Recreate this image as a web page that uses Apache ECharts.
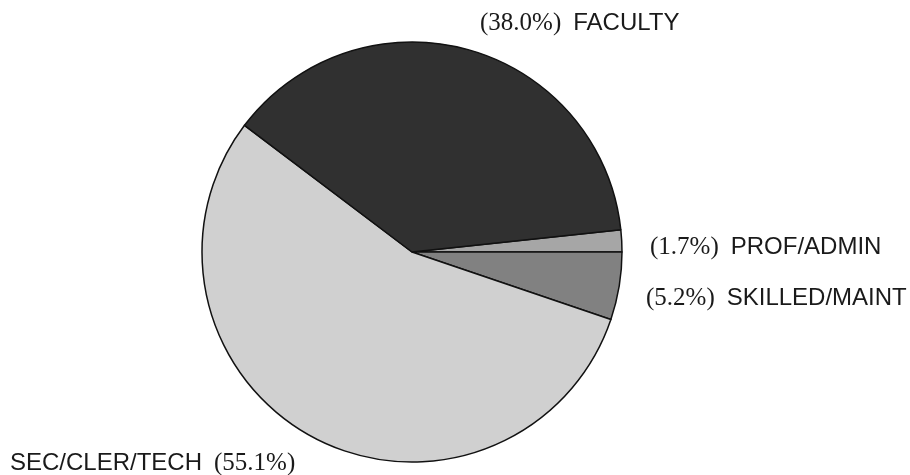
<!DOCTYPE html>
<html>
<head>
<meta charset="utf-8">
<script src="https://cdn.jsdelivr.net/npm/echarts@6/dist/echarts.min.js"></script>
<style>
  html, body { margin: 0; padding: 0; background: #fff; }
  #chart { width: 910px; height: 475px; }
</style>
</head>
<body>
<div id="chart"></div>
<script>
// categories and shares (percent), clockwise from the PROF/ADMIN slice
const categories = ['PROF/ADMIN', 'SKILLED/MAINT', 'SEC/CLER/TECH', 'FACULTY'];
const shares = [1.7, 5.2, 55.1, 38.0];

// halftone-ish grey fills
const fills = ['#a6a6a6', '#818181', '#d0d0d0', '#303030'];
// where each label sits (x, y)
const labelSpots = [
    [650, 247],
    [646, 298],
    [10, 463],
    [480, 23]
];

var myChart = echarts.init(document.getElementById('chart'), null, { renderer: 'canvas' });

var seriesData = [];
for (var i = 0; i < categories.length; i++) {
    seriesData.push({
        name: categories[i],
        value: shares[i],
        itemStyle: { color: fills[i] }
    });
}

var option = {
    backgroundColor: '#fff',
    animation: false,
    series: [{
        type: 'pie',
        center: [412, 252],
        radius: 210,
        startAngle: 6.1,
        clockwise: true,
        avoidLabelOverlap: false,
        data: seriesData,
        itemStyle: {
            borderColor: '#111',
            borderWidth: 1.5
        },
        labelLine: { show: false },
        label: {
            show: true,
            position: 'outside',
            formatter: function (p) {
                var pct = '{pct|(' + p.value.toFixed(1) + '%)}';
                var nm = '{nm|' + p.name + '}';
                // the big slice reads name first
                return p.name === 'SEC/CLER/TECH' ? nm + '{gap|}' + pct : pct + '{gap|}' + nm;
            },
            rich: {
                pct: { fontFamily: 'Liberation Serif', fontSize: 25, color: '#1a1a1a' },
                nm: { fontFamily: 'Liberation Sans', fontSize: 24, color: '#1a1a1a' },
                gap: { width: 12 }
            }
        },
        labelLayout: function (params) {
            var s = labelSpots[params.dataIndex];
            return { x: s[0], y: s[1], align: 'left', verticalAlign: 'middle', hideOverlap: false };
        },
        emphasis: { disabled: true }
    }]
};

myChart.setOption(option);
window.addEventListener('resize', () => {
    myChart.resize()
})
</script>
</body>
</html>
